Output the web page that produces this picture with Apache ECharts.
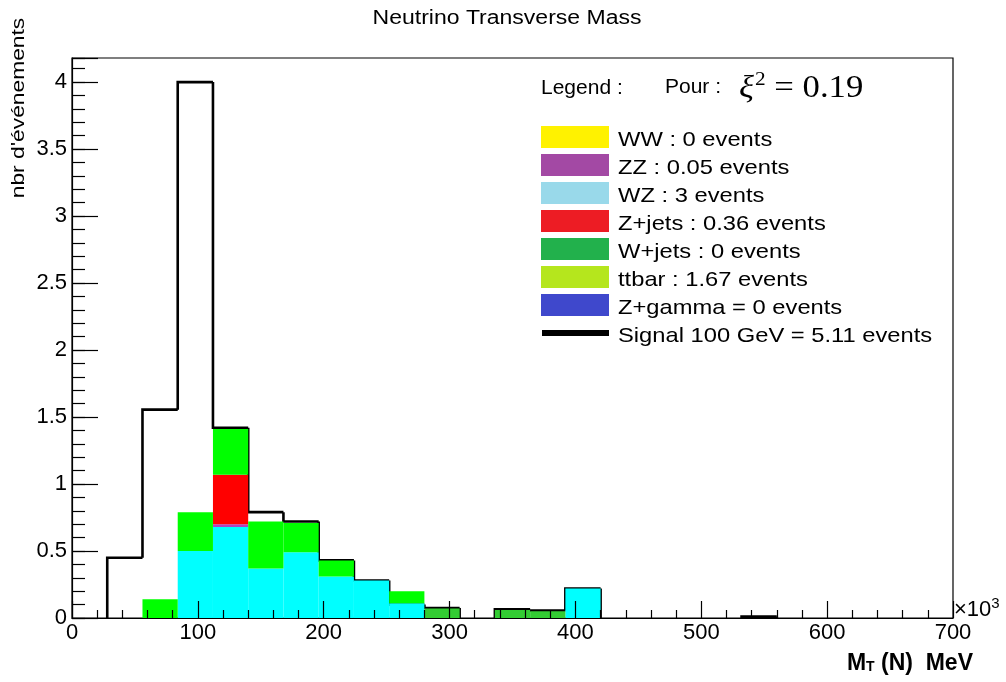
<!DOCTYPE html>
<html><head><meta charset="utf-8">
<script src="https://cdn.jsdelivr.net/npm/echarts@6/dist/echarts.min.js"></script>
<style>html,body{margin:0;padding:0;background:#fff}#c{width:1006px;height:682px}</style>
</head><body><div id="c"></div>
<script>
// ---- data (x in units of 10^3 MeV) ----
const binEdges = [0,28,56,84,112,140,168,196,224,252,280,308,336,364,392,420,448,476,504,532,560,588,616,644,672,700];
const wz     = [0,0,0,0.50,0.68,0.37,0.49,0.31,0.28,0.11,0,0,0,0,0.22,0,0,0,0,0,0,0,0,0,0];
const zz     = [0,0,0,0,0.02,0,0,0,0,0,0,0,0,0,0,0,0,0,0,0,0,0,0,0,0];
const zjets  = [0,0,0,0,0.37,0,0,0,0,0,0,0,0,0,0,0,0,0,0,0,0,0,0,0,0];
const ttbar  = [0,0,0.14,0.29,0.34,0.35,0.22,0.12,0,0.09,0,0,0,0,0,0,0,0,0,0,0,0,0,0,0];
const wjets  = [0,0,0,0,0,0,0,0,0,0,0.07,0,0.06,0.05,0,0,0,0,0,0,0,0,0,0,0];
const signal = [0,0.45,1.555,4.0,1.42,0.79,0.72,0.43,0.28,0.1,0.075,0,0.065,0.055,0.22,0,0,0,0,0.01,0,0,0,0,0];
const legendLabels = ['WW : 0 events','ZZ : 0.05 events','WZ : 3 events','Z+jets : 0.36 events','W+jets : 0 events','ttbar : 1.67 events','Z+gamma = 0 events','Signal 100 GeV = 5.11 events'];
const titleText = 'Neutrino Transverse Mass';
const yAxisTitle = "nbr d'événements";

// ---- styles ----
const stackOrder = [wz, zz, zjets, ttbar, wjets];
const stackColors = ['#00ffff', '#b040c0', '#ff0000', '#00ff00', '#33cc33'];
const legendColors = ['#fff200','#a349a4','#99d9ea','#ed1c24','#22b14c','#b5e61d','#3f48cc','#000000'];
const FONT = "'Liberation Sans', Arial, sans-serif";
const SERIF = "'Liberation Serif', 'DejaVu Serif', serif";
const YMAX = 4.18;

const chart = echarts.init(document.getElementById('c'), null, {renderer:'canvas'});

const base = new Array(signal.length).fill(0);
const stackSeries = stackOrder.map((vals, k) => {
  const data = [];
  vals.forEach((v, i) => {
    if (v > 0) data.push([binEdges[i], binEdges[i+1], base[i], base[i] + v]);
    base[i] += v;
  });
  return {
    type: 'custom', z: 3, silent: true,
    encode: {x: [0,1], y: [2,3]},
    data,
    renderItem: (params, api) => {
      const a = api.coord([api.value(0), api.value(3)]);
      const b = api.coord([api.value(1), api.value(2)]);
      return {type: 'rect', shape: {x: a[0], y: a[1], width: b[0]-a[0], height: b[1]-a[1]},
              style: {fill: stackColors[k], stroke: null}};
    }
  };
});

const sigData = signal.map((v, i) => [binEdges[i], binEdges[i+1], i > 0 ? signal[i-1] : 0, v]);
const signalSeries = {
  type: 'custom', z: 2, silent: true,
  encode: {x: [0,1], y: [2,3]},
  data: sigData,
  renderItem: (params, api) => {
    const x0 = api.value(0), x1 = api.value(1), prev = api.value(2), v = api.value(3);
    if (v === 0 && prev === 0) return null;
    const pts = v === 0 ? [api.coord([x0, prev]), api.coord([x0, 0])]
                        : [api.coord([x0, prev]), api.coord([x0, v]), api.coord([x1, v])];
    return {type: 'polyline', shape: {points: pts}, style: {stroke: '#000', lineWidth: 2.6, fill: null}};
  }
};

const graphics = [];
graphics.push({type:'text', x: 507, y: 18, scaleX: 1.15, style:{text: titleText, font: `20px ${FONT}`, fill:'#000', align:'center', verticalAlign:'middle'}});
graphics.push({type:'text', x: 19, y: 108, rotation: Math.PI/2, scaleX: 1.2, style:{text: yAxisTitle, font: `19px ${FONT}`, fill:'#000', align:'center', verticalAlign:'middle'}});
graphics.push({type:'text', x: 541, y: 88, scaleX: 1.05, style:{text: 'Legend :', font: `20px ${FONT}`, fill:'#000', align:'left', verticalAlign:'middle'}});
graphics.push({type:'text', x: 665, y: 87, scaleX: 1.05, style:{text: 'Pour :', font: `20px ${FONT}`, fill:'#000', align:'left', verticalAlign:'middle'}});
graphics.push({type:'text', x: 739, y: 89, scaleX: 1.12, style:{text: '{a|ξ}{b|2}{c| = 0.19}', fill:'#000', align:'left', verticalAlign:'middle',
  rich:{a:{fontFamily: SERIF, fontStyle:'italic', fontSize:31},
        b:{fontFamily: SERIF, fontSize:19, padding:[0,0,17,1]},
        c:{fontFamily: SERIF, fontSize:31}}}});
legendLabels.forEach((lab, i) => {
  const cy = 137 + i*28;
  if (i < 7) graphics.push({type:'rect', shape:{x:541, y:cy-11, width:68, height:22}, style:{fill: legendColors[i]}});
  else graphics.push({type:'rect', shape:{x:542, y:cy-3, width:67, height:6}, style:{fill: legendColors[i]}});
  graphics.push({type:'text', x: 618, y: cy+3, scaleX: 1.13, style:{text: lab, font: `21px ${FONT}`, fill:'#000', align:'left', verticalAlign:'middle'}});
});
graphics.push({type:'text', x: 954, y: 610, style:{text: '×10{s|3}', font: `22px ${FONT}`, fill:'#000', align:'left', verticalAlign:'middle',
  rich:{s:{fontSize:15, padding:[0,0,13,0], fontFamily: FONT}}}});
graphics.push({type:'text', x: 973, y: 664, style:{text: '{m|M}{t|T}{m| (N)  MeV}', fill:'#000', align:'right', verticalAlign:'middle',
  rich:{m:{fontSize:23, fontWeight:'bold', fontFamily: FONT}, t:{fontSize:14, fontWeight:'bold', fontFamily: FONT, padding:[6,0,0,0]}}}});

chart.setOption({
  animation: false,
  backgroundColor: '#fff',
  grid: {left: 72, right: 53, top: 58, bottom: 64, show: true, borderColor: '#000', borderWidth: 1.2, backgroundColor: 'transparent'},
  xAxis: {
    type: 'value', min: 0, max: 700, interval: 100, z: 10,
    axisLine: {show: true, onZero: false, lineStyle: {color: '#000', width: 1.2}},
    axisTick: {show: true, inside: true, length: 17, lineStyle: {color: '#000', width: 1.2}},
    minorTick: {show: true, splitNumber: 5, length: 8, lineStyle: {color: '#000', width: 1.2}},
    splitLine: {show: false},
    axisLabel: {color: '#000', fontSize: 22, fontFamily: FONT, margin: 4}
  },
  yAxis: [{
    type: 'value', min: 0, max: YMAX, interval: 0.1, z: 10,
    axisLine: {show: true, onZero: false, lineStyle: {color: '#000', width: 1.2}},
    axisTick: {show: true, inside: true, length: 13, lineStyle: {color: '#000', width: 1.2}},
    splitLine: {show: false},
    axisLabel: {show: false}
  }, {
    type: 'value', min: 0, max: YMAX, interval: 0.5, z: 10, position: 'left',
    axisLine: {show: false},
    axisTick: {show: true, inside: true, length: 26, lineStyle: {color: '#000', width: 1.2}},
    splitLine: {show: false},
    axisLabel: {color: '#000', fontSize: 22, fontFamily: FONT, margin: 5,
      formatter: v => (Math.abs(v/0.5 - Math.round(v/0.5)) < 1e-6 && v <= 4.001) ? String(+v.toFixed(1)) : ''}
  }],
  series: [signalSeries, ...stackSeries],
  graphic: graphics
});
</script></body></html>
